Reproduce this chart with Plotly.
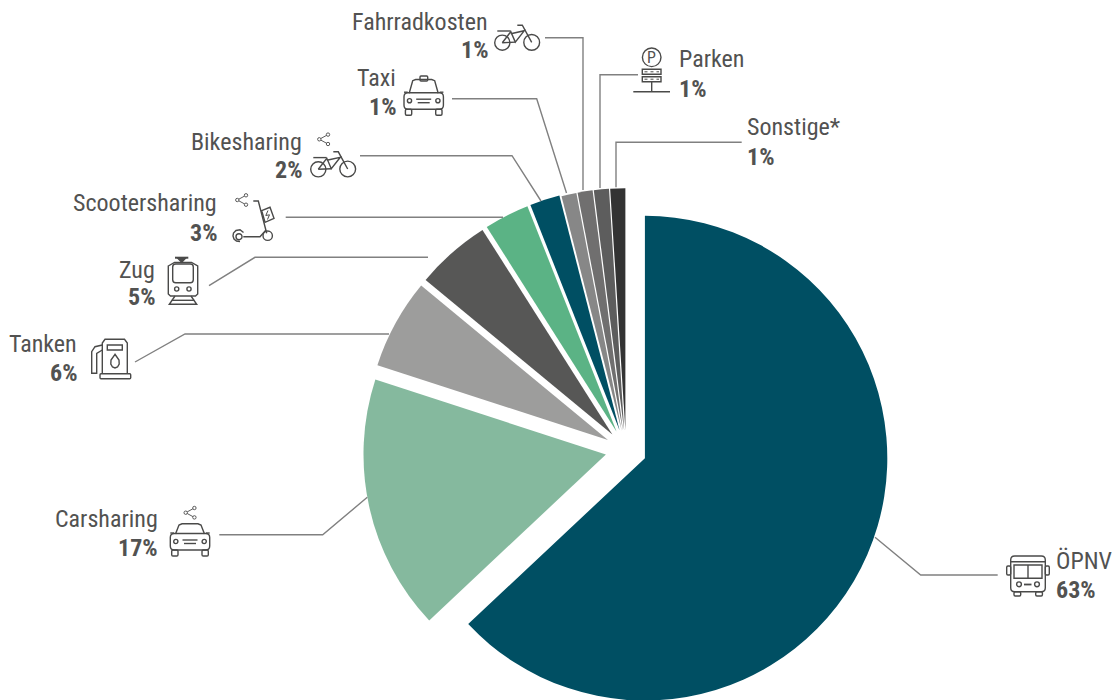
import plotly.graph_objects as go

# ---- data ----
categories = ["ÖPNV", "Carsharing", "Tanken", "Zug", "Scootersharing",
              "Bikesharing", "Taxi", "Fahrradkosten", "Parken", "Sonstige*"]
shares = [63, 17, 6, 5, 3, 2, 1, 1, 1, 1]
share_labels = ["63%", "17%", "6%", "5%", "3%", "2%", "1%", "1%", "1%", "1%"]
slice_colors = ["#004f63", "#85b99e", "#9d9d9c", "#575756", "#5bb385",
                "#004f63", "#878787", "#706f6f", "#5d5d5d", "#333333"]
slice_pull = [0.085, 0.085, 0.085, 0.085, 0.085, 0.085, 0.08, 0.08, 0.08, 0.08]

W, H = 1119, 713
FONT = "Roboto Condensed, Liberation Sans Narrow, Roboto, sans-serif"
TEXT = "#525251"
ICON = "#4a4a49"
LEAD = "#808080"
SW = 1.4

fx = lambda x: x / W
fy = lambda y: 1 - y / H
shapes = []


def poly(pts, closed=False, color=ICON, width=SW, dash=None, fill=None):
    d = "M" + " L".join(f"{fx(x):.5f},{fy(y):.5f}" for x, y in pts) + (" Z" if closed else "")
    line = dict(color=color, width=width)
    if dash:
        line["dash"] = dash
    s = dict(type="path", xref="paper", yref="paper", path=d, line=line, layer="above")
    if fill:
        s["fillcolor"] = fill
    shapes.append(s)


def circle(cx, cy, r, width=SW, fill=None):
    shapes.append(dict(type="circle", xref="paper", yref="paper",
                       x0=fx(cx - r), x1=fx(cx + r), y0=fy(cy + r), y1=fy(cy - r),
                       line=dict(color=ICON, width=width), fillcolor=fill or "rgba(0,0,0,0)"))


def rrect(x0, y0, x1, y1, r=2, width=SW):
    def P(x, y):
        return f"{fx(x):.5f},{fy(y):.5f}"
    d = (f"M{P(x0 + r, y0)} L{P(x1 - r, y0)} Q{P(x1, y0)} {P(x1, y0 + r)} L{P(x1, y1 - r)} "
         f"Q{P(x1, y1)} {P(x1 - r, y1)} L{P(x0 + r, y1)} Q{P(x0, y1)} {P(x0, y1 - r)} "
         f"L{P(x0, y0 + r)} Q{P(x0, y0)} {P(x0 + r, y0)} Z")
    shapes.append(dict(type="path", xref="paper", yref="paper", path=d,
                       line=dict(color=ICON, width=width)))


def bike(x, y):
    circle(x, y, 7.6)
    circle(x + 29.4, y - 0.3, 7.9)
    poly([(x - 5, y - 11.7), (x + 8.3, y - 11.7)])
    poly([(x, y), (x + 8.5, y - 11), (x + 13, y - 0.6), (x + 22, y - 12), (x + 8.5, y - 9)])
    poly([(x, y), (x + 13, y - 0.6)])
    poly([(x + 15, y - 17.5), (x + 20, y - 17.5), (x + 29.4, y - 0.3)])


def share(x, y):
    for dx, dy in [(0, 0), (8.7, -4.7), (8.7, 4.7)]:
        circle(x + dx, y + dy, 1.7, width=0.9)
    poly([(x + 7.2, y - 3.9), (x + 1.5, y - 0.8)], width=0.9)
    poly([(x + 7.2, y + 3.9), (x + 1.5, y + 0.8)], width=0.9)


def car(cx, top, roof):
    rrect(cx - 19.7, top + 8.5, cx + 19.7, top + 25, 4)
    poly([(cx - 14.5, top + 9), (cx - 11, top + roof), (cx - 8, top + roof - 1.2),
          (cx + 8, top + roof - 1.2), (cx + 11, top + roof), (cx + 14.5, top + 9)])
    poly([(cx - 19.7, top + 8), (cx - 16, top + 8)])
    poly([(cx + 19.7, top + 8), (cx + 16, top + 8)])
    rrect(cx - 18.3, top + 25, cx - 12, top + 31, 1.2)
    rrect(cx + 12, top + 25, cx + 18.3, top + 31, 1.2)
    circle(cx - 14.2, top + 16.5, 2.1)
    circle(cx + 14.2, top + 16.5, 2.1)
    poly([(cx - 7.5, top + 15), (cx + 7.5, top + 15)])
    poly([(cx - 6, top + 18.5), (cx + 6, top + 18.5)])


# ---- leader lines ----
leaders = [
    [(875, 537.3), (920.7, 575), (997.7, 575)],
    [(219.3, 534.7), (322.7, 534.7), (367.3, 497.3)],
    [(135, 362), (185, 334), (389, 334)],
    [(209, 285.7), (255, 257.3), (428, 257.3)],
    [(285.7, 217.3), (503, 217.3)],
    [(360, 155.7), (512, 155.7), (541, 201)],
    [(452, 98.7), (536.7, 98.7), (566.5, 193)],
    [(545, 37.7), (583, 37.7), (583, 190)],
    [(638, 74.7), (600, 74.7), (600, 188)],
    [(741.7, 142.3), (616, 142.3), (616, 187.3)],
]
for pts in leaders:
    poly(pts, color=LEAD, width=1.4)

# ---- icons ----
bike(502.3, 42.7)
bike(318.3, 169.3)
share(319.3, 139.3)
share(237.3, 200)
share(185.7, 512.7)
car(190, 525, 0)
car(423.7, 84.2, -3.5)
rrect(420, 76, 427.7, 81, 1)

# bus
rrect(1010.7, 556, 1045.3, 591.7, 4)
poly([(1010.7, 561.7), (1045.3, 561.7)])
poly([(1014, 565), (1042, 565), (1042, 578.3), (1014, 578.3)], closed=True)
poly([(1028, 565), (1028, 578.3)])
circle(1019, 584.3, 2.4)
circle(1037, 584.3, 2.4)
poly([(1024, 584.5), (1031.5, 584.5)], width=1.8)
rrect(1006.7, 566, 1010.7, 575, 1.2)
rrect(1045.3, 566, 1049.3, 575, 1.2)
rrect(1014, 591.7, 1020.7, 596, 1.2)
rrect(1035.7, 591.7, 1042.4, 596, 1.2)

# train
poly([(168.3, 266), (174.5, 262.5), (191.5, 262.5), (197.7, 266), (197.7, 294), (195.5, 296),
      (170.5, 296), (168.3, 294)], closed=True)
rrect(172.7, 264, 193.3, 282.7, 3)
poly([(175, 257.7), (188.3, 257.7)], width=2)
poly([(177.5, 258), (185.8, 258), (181.7, 262.3)], closed=True, fill=ICON)
circle(176.7, 289, 2.1)
circle(189, 289, 2.1)
poly([(175, 296), (169.3, 304.3), (196.7, 304.3), (191, 296)])
poly([(171.8, 300.3), (194.2, 300.3)])

# fuel pump
poly([(102.3, 373.8), (102.3, 343), (105, 339.3), (124.5, 339.3), (127.3, 343), (127.3, 373.8)])
rrect(100, 373.8, 130.7, 378.7, 1)
poly([(107.3, 345), (122.3, 345), (122.3, 350), (107.3, 350)], closed=True)
poly([(115, 354.3), (111, 360), (110.8, 364), (112.5, 367), (115, 368), (117.5, 367),
      (119.2, 364), (119, 360)], closed=True)
poly([(102.3, 345), (95, 346.7), (91.7, 351.7), (91.7, 373.3), (96.7, 373.3), (96.7, 353.3), (102.3, 350)])

# scooter
poly([(253.3, 201), (258.3, 201), (266.7, 233.3)])
poly([(261.7, 210.7), (270, 207.3), (274, 218.3), (265, 222.3)], closed=True)
poly([(268, 210.5), (265.8, 215.5), (269.5, 214.8), (267.5, 219.5)], width=1)
poly([(243.3, 236.7), (260, 236.7), (266, 230)])
circle(267.7, 235.7, 4.7)
poly([(243.5, 232.5), (240, 229.8), (236, 230.5), (233.5, 233), (233, 236), (234, 239),
      (236.5, 241), (240, 241.5)])
circle(239, 236.7, 3)

# parking sign
circle(651.7, 57.3, 9.3)
poly([(642.3, 69.3), (661, 69.3), (661, 74.3), (642.3, 74.3)], closed=True)
poly([(642.3, 76.7), (661, 76.7), (661, 81.7), (642.3, 81.7)], closed=True)
poly([(644.5, 71.8), (659, 71.8)], width=1, dash="dot")
poly([(644.5, 79.2), (659, 79.2)], width=1, dash="dot")
poly([(651.7, 81.7), (651.7, 91.7)])
poly([(633.3, 91.7), (670, 91.7)])

# ---- text ----
ann = []
SIZE = 24


def label(i, x, y1, y2, anchor):
    dx = 3 if anchor == "right" else -3.2
    ann.append(dict(x=fx(x + dx), y=fy(y1 - 0.5), xref="paper", yref="paper", text=categories[i], showarrow=False,
                    xanchor=anchor, yanchor="middle", font=dict(size=SIZE, color=TEXT, family=FONT)))
    ann.append(dict(x=fx(x + dx), y=fy(y2 - 0.5), xref="paper", yref="paper", text="<b>" + share_labels[i] + "</b>",
                    showarrow=False, xanchor=anchor, yanchor="middle",
                    font=dict(size=SIZE, color=TEXT, family=FONT)))


label(0, 1057, 561, 590, "left")
label(1, 157, 519, 548, "right")
label(2, 76, 344, 373, "right")
label(3, 154, 270, 298, "right")
label(4, 216, 204, 233, "right")
label(5, 301, 142, 171, "right")
label(6, 395, 79, 108, "right")
label(7, 487, 22, 51, "right")
label(8, 680, 60, 89, "left")
label(9, 748, 128, 157, "left")
ann.append(dict(x=fx(651.7), y=fy(57.3), xref="paper", yref="paper", text="P", showarrow=False,
                xanchor="center", yanchor="middle", font=dict(size=16, color=TEXT, family=FONT)))

# pie centre at (626, 450), full extent 526 px
fig = go.Figure(go.Pie(
    labels=categories, values=shares, sort=False, direction="clockwise", rotation=0,
    pull=slice_pull, textinfo="none", hoverinfo="label+percent",
    marker=dict(colors=slice_colors, line=dict(width=0)),
    domain=dict(x=[133 / W, 1], y=[1 - 713 / H, 1 - 187 / H]),
))
fig.update_layout(width=W, height=H, margin=dict(l=0, r=0, t=0, b=0, autoexpand=False), showlegend=False,
                  paper_bgcolor="white", plot_bgcolor="white", shapes=shapes, annotations=ann)
fig.write_html("out.html", config=dict(displayModeBar=False),
               post_script="document.documentElement.style.overflow='hidden';document.body.style.margin='0';")
